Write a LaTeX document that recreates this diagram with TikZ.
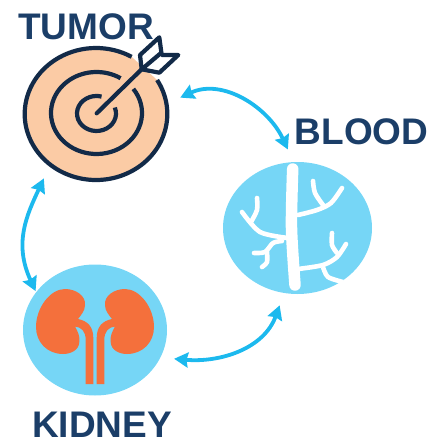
\documentclass[tikz,border=0pt]{standalone}
\usepackage{fontspec}
\setmainfont{Liberation Sans}
\usetikzlibrary{arrows.meta,positioning,shapes.geometric}
\definecolor{inkblue}{RGB}{27,62,104}
\definecolor{ringdark}{RGB}{18,42,72}
\definecolor{peach}{RGB}{251,203,165}
\definecolor{skyblue}{RGB}{118,214,246}
\definecolor{linkblue}{RGB}{28,185,238}
\definecolor{organ}{RGB}{244,112,60}

\begin{document}
\begin{tikzpicture}[
  x=1pt, y=-1pt,
  >={Stealth[length=14pt,width=15pt,inset=1.5pt]},
  hub/.style={ellipse, inner sep=0pt, outer sep=13pt},
  lbl/.style={font=\fontsize{37}{37}\bfseries\selectfont, text=inkblue, inner sep=0pt},
  ring/.style={draw=ringdark, line width=4.2pt},
  vein/.style={draw=white, line width=4.6pt, line cap=round, smooth},
  link/.style={<->, draw=linkblue, line width=3.8pt}]
\useasboundingbox (0,0) rectangle (428,441);
\node[hub,minimum width=146pt,minimum height=136pt](tumor) at (96,114){};
\node[hub,fill=skyblue,minimum width=149pt,minimum height=132pt](blood) at (297.5,228){};
\node[hub,fill=skyblue,minimum width=144pt,minimum height=131pt,below=56.5pt of tumor,xshift=-1pt](kidney){};
\node[lbl,above=-7pt of tumor,xshift=-10pt](tumorlbl){TUMOR};
\node[lbl,above=4pt of blood,xshift=64pt](bloodlbl){BLOOD};
\node[lbl,below=3pt of kidney,xshift=7pt](kidneylbl){KIDNEY};
% target
\fill[peach] (96,114) ++(-31:71.3 and 66) arc[start angle=-31,end angle=300,x radius=71.3,y radius=66] -- cycle;
\draw[ring] (96,114) ++(-31:71.3 and 66) arc[start angle=-31,end angle=300,x radius=71.3,y radius=66];
\draw[ring] (96.5,113) ++(-36:45.5 and 41) arc[start angle=-36,end angle=302,x radius=45.5,y radius=41];
\draw[ring] (96.5,113.5) ++(-20:19.5 and 17.5) arc[start angle=-20,end angle=285,x radius=19.5,y radius=17.5];
\draw[ring,line cap=round] (96.7,113.3) -- (146,65);
\draw[ring,fill=white,line join=round] (141.7,69.3) -- (140,55) -- (159.3,37.3) -- (161.7,55) -- (178.3,55) -- (159.3,72.7) -- cycle;
\draw[ring] (141.7,69.3) -- (161,53);
% vessels
\draw[vein,line width=11.5pt] plot[smooth] coordinates {(292.7,169) (291.5,228) (295,285)};
\draw[vein] plot[smooth] coordinates {(298,215) (317,210) (331,203) (342,188)};
\draw[vein] plot[smooth] coordinates {(313,181) (315,193) (323,205)};
\draw[vein] plot[smooth] coordinates {(288,238) (260,232) (242,212)};
\draw[vein] plot[smooth] coordinates {(257,198) (257,210) (251,222)};
\draw[vein] plot[smooth] coordinates {(282,241) (273,243) (265,252) (254,253)};
\draw[vein] plot[smooth] coordinates {(267,252) (267,262) (262,267)};
\draw[vein] plot[smooth] coordinates {(298,269) (323,265) (337,257) (346,244)};
\draw[vein] plot[smooth] coordinates {(332,233) (332,245) (337,253)};
\draw[vein,line cap=butt] plot[smooth] coordinates {(323,267) (328,277) (343,282)};
% kidneys
\foreach \s in {1,-1}
  \fill[organ,shift={(95,330)},xscale=\s] (-30,-41) .. controls (-19,-41) and (-9,-34) .. (-10,-25)
    .. controls (-10,-19) and (-14,-15) .. (-17,-11) .. controls (-7,-9) and (-1.7,-3) .. (-1.7,8)
    -- (-1.7,54) -- (-9.3,54) -- (-9.3,10) .. controls (-9.3,1) and (-14,-3) .. (-20,-3.5)
    .. controls (-17,2) and (-15,6) .. (-15.7,12) .. controls (-16,20) and (-24,24) .. (-32,24)
    .. controls (-48,24) and (-59,12) .. (-59,-3) .. controls (-59,-22) and (-45,-41) .. (-30,-41) -- cycle;
% links
\draw[link] (tumor.11) to[out=25,in=115] (blood.97);
\draw[link] (blood.257) to[out=-110,in=-5] (kidney.-20);
\draw[link,shorten <=-13pt] (kidney.142) to[out=115,in=-115] (tumor.231);
\end{tikzpicture}
\end{document}
